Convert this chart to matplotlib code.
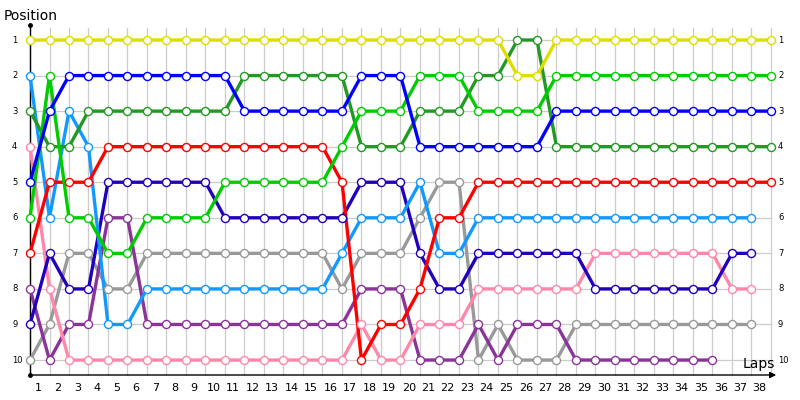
import matplotlib
matplotlib.use('Agg')
import matplotlib.pyplot as plt

# position of each driver per lap (lap 0 = starting grid)
yellow = [1, 1, 1, 1, 1, 1, 1, 1, 1, 1, 1, 1, 1, 1, 1, 1, 1, 1, 1, 1,
          1, 1, 1, 1, 1, 2, 2, 1, 1, 1, 1, 1, 1, 1, 1, 1, 1, 1, 1]
blue = [5, 3, 2, 2, 2, 2, 2, 2, 2, 2, 2, 3, 3, 3, 3, 3, 3, 2, 2, 2,
        4, 4, 4, 4, 4, 4, 4, 3, 3, 3, 3, 3, 3, 3, 3, 3, 3, 3, 3]
dark_green = [3, 4, 4, 3, 3, 3, 3, 3, 3, 3, 3, 2, 2, 2, 2, 2, 2, 4, 4, 4,
              3, 3, 3, 2, 2, 1, 1, 4, 4, 4, 4, 4, 4, 4, 4, 4, 4, 4, 4]
green = [6, 2, 6, 6, 7, 7, 6, 6, 6, 6, 5, 5, 5, 5, 5, 5, 4, 3, 3, 3,
         2, 2, 2, 3, 3, 3, 3, 2, 2, 2, 2, 2, 2, 2, 2, 2, 2, 2, 2]
red = [7, 5, 5, 5, 4, 4, 4, 4, 4, 4, 4, 4, 4, 4, 4, 4, 5, 10, 9, 9,
       8, 6, 6, 5, 5, 5, 5, 5, 5, 5, 5, 5, 5, 5, 5, 5, 5, 5, 5]
light_blue = [2, 6, 3, 4, 9, 9, 8, 8, 8, 8, 8, 8, 8, 8, 8, 8, 7, 6, 6, 6,
              5, 7, 7, 6, 6, 6, 6, 6, 6, 6, 6, 6, 6, 6, 6, 6, 6, 6]
navy = [9, 7, 8, 8, 5, 5, 5, 5, 5, 5, 6, 6, 6, 6, 6, 6, 6, 5, 5, 5,
        7, 8, 8, 7, 7, 7, 7, 7, 7, 8, 8, 8, 8, 8, 8, 8, 7, 7]
grey = [10, 9, 7, 7, 8, 8, 7, 7, 7, 7, 7, 7, 7, 7, 7, 7, 8, 7, 7, 7,
        6, 5, 5, 10, 9, 10, 10, 10, 9, 9, 9, 9, 9, 9, 9, 9, 9, 9]
pink = [4, 8, 10, 10, 10, 10, 10, 10, 10, 10, 10, 10, 10, 10, 10, 10, 10, 9, 10, 10,
        9, 9, 9, 8, 8, 8, 8, 8, 8, 7, 7, 7, 7, 7, 7, 7, 8, 8]
purple = [8, 10, 9, 9, 6, 6, 9, 9, 9, 9, 9, 9, 9, 9, 9, 9, 9, 8, 8, 8,
          10, 10, 10, 9, 10, 9, 9, 9, 10, 10, 10, 10, 10, 10, 10, 10]

drivers = [
    (grey, '#999999'),
    (purple, '#8a3399'),
    (pink, '#ff88aa'),
    (navy, '#2200bb'),
    (light_blue, '#1199ff'),
    (red, '#ff0000'),
    (dark_green, '#229922'),
    (green, '#00cc00'),
    (blue, '#0000ff'),
    (yellow, '#dddd00'),
]

n_laps = 38
positions = list(range(1, 11))

# pixel -> data helpers (lap 0 sits on the y axis at x=30px)
def px(x):
    return (x - 30) / 19.5

def py(y):
    return 1 + (y - 40) / 35.56

fig = plt.figure(figsize=(8, 4), dpi=100)
ax = fig.add_axes([0, 0, 1, 1])
ax.set_xlim(px(0), px(800))
ax.set_ylim(py(400), py(0))
ax.axis('off')

grid_c = '#cccccc'
for lap in range(n_laps + 1):
    ax.plot([lap, lap], [py(28), py(375)], color=grid_c, lw=0.9, zorder=0)
for p in positions:
    ax.plot([0, n_laps], [p, p], color=grid_c, lw=0.9, zorder=0)

# axes
ax.plot([0, 0], [py(25), py(375)], color='black', lw=1, zorder=1)
ax.annotate('', xy=(px(779), py(375)), xytext=(0, py(375)),
            arrowprops=dict(arrowstyle='-|>', color='black', lw=1, mutation_scale=9))
ax.plot([0, 0], [py(25), py(375)], 'o', color='black', ms=2.5, zorder=1)

for vals, c in drivers:
    ax.plot(range(len(vals)), vals, color=c, lw=2.4, zorder=2, solid_capstyle='round')
for vals, c in drivers:
    ax.plot(range(len(vals)), vals, 'o', ms=5.8, mfc='white', mec=c, mew=1.0, zorder=3)

for p in positions:
    ax.text(px(12), p, str(p), ha='left', va='center', fontsize=6)
    ax.text(px(778), p, str(p), ha='left', va='center', fontsize=6)

for lap in range(1, n_laps + 1):
    ax.text(lap - 0.58, py(388), str(lap), ha='center', va='center', fontsize=8)

ax.text(px(4), py(16), 'Position', ha='left', va='center', fontsize=10)
ax.text(px(743), py(364), 'Laps', ha='left', va='center', fontsize=10)

plt.savefig('out.png', dpi=100)
